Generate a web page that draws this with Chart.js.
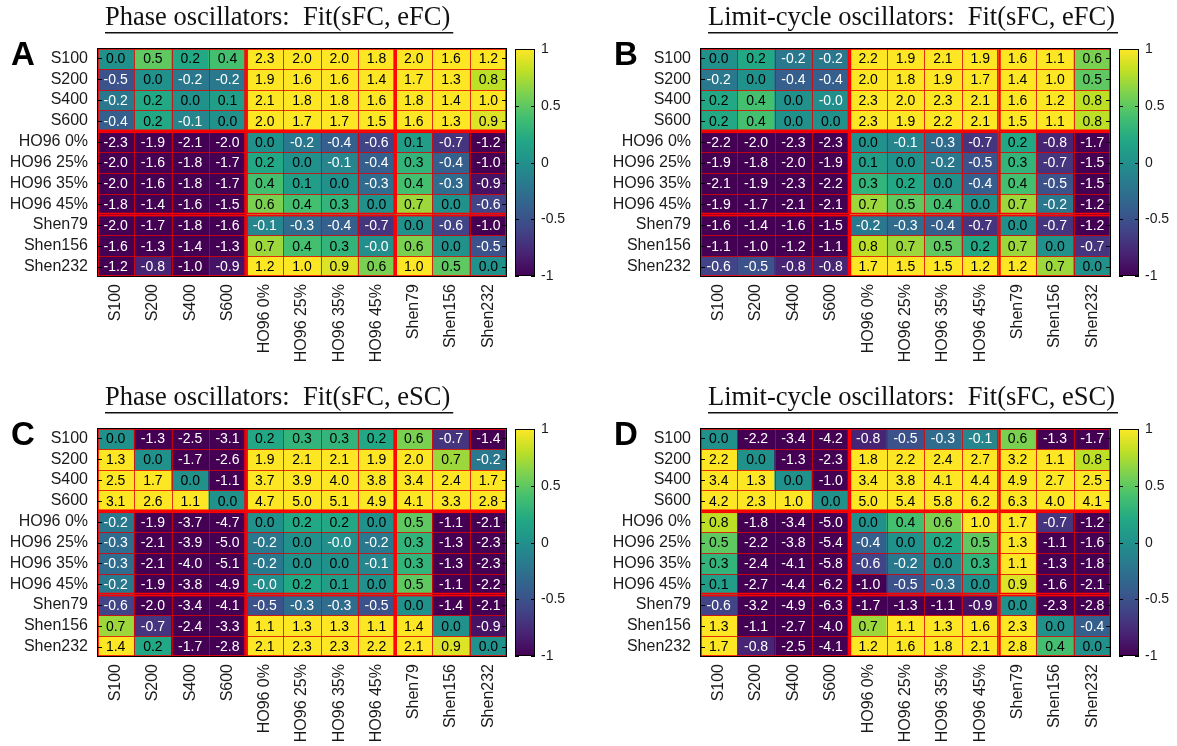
<!DOCTYPE html>
<html>
<head>
<meta charset="utf-8">
<script src="https://cdn.jsdelivr.net/npm/chart.js@4.4.1/dist/chart.umd.min.js"></script>
<style>
  html, body { margin: 0; padding: 0; background: #fff; }
  #wrap { position: relative; width: 1177px; height: 746px; overflow: hidden; }
  canvas { position: absolute; }
</style>
</head>
<body>
<div id="wrap">
  <canvas id="cA" width="588" height="373" style="left:0;top:0"></canvas>
  <canvas id="cB" width="589" height="373" style="left:588px;top:0"></canvas>
  <canvas id="cC" width="588" height="373" style="left:0;top:373px"></canvas>
  <canvas id="cD" width="589" height="373" style="left:588px;top:373px"></canvas>
</div>
<script>
// networks (rows and columns use the same order)
const networks = ['S100', 'S200', 'S400', 'S600', 'HO96 0%', 'HO96 25%', 'HO96 35%', 'HO96 45%', 'Shen79', 'Shen156', 'Shen232'];
const groupEdges = [0, 4, 8, 11];
const colorTicks = [1, 0.5, 0, -0.5, -1];

// values; -0.02 stands for the printed "-0.0"
const phaseEFC = [
  [0.0, 0.5, 0.2, 0.4, 2.3, 2.0, 2.0, 1.8, 2.0, 1.6, 1.2],
  [-0.5, 0.0, -0.2, -0.2, 1.9, 1.6, 1.6, 1.4, 1.7, 1.3, 0.8],
  [-0.2, 0.2, 0.0, 0.1, 2.1, 1.8, 1.8, 1.6, 1.8, 1.4, 1.0],
  [-0.4, 0.2, -0.1, 0.0, 2.0, 1.7, 1.7, 1.5, 1.6, 1.3, 0.9],
  [-2.3, -1.9, -2.1, -2.0, 0.0, -0.2, -0.4, -0.6, 0.1, -0.7, -1.2],
  [-2.0, -1.6, -1.8, -1.7, 0.2, 0.0, -0.1, -0.4, 0.3, -0.4, -1.0],
  [-2.0, -1.6, -1.8, -1.7, 0.4, 0.1, 0.0, -0.3, 0.4, -0.3, -0.9],
  [-1.8, -1.4, -1.6, -1.5, 0.6, 0.4, 0.3, 0.0, 0.7, 0.0, -0.6],
  [-2.0, -1.7, -1.8, -1.6, -0.1, -0.3, -0.4, -0.7, 0.0, -0.6, -1.0],
  [-1.6, -1.3, -1.4, -1.3, 0.7, 0.4, 0.3, -0.02, 0.6, 0.0, -0.5],
  [-1.2, -0.8, -1.0, -0.9, 1.2, 1.0, 0.9, 0.6, 1.0, 0.5, 0.0]
];
const limitEFC = [
  [0.0, 0.2, -0.2, -0.2, 2.2, 1.9, 2.1, 1.9, 1.6, 1.1, 0.6],
  [-0.2, 0.0, -0.4, -0.4, 2.0, 1.8, 1.9, 1.7, 1.4, 1.0, 0.5],
  [0.2, 0.4, 0.0, -0.02, 2.3, 2.0, 2.3, 2.1, 1.6, 1.2, 0.8],
  [0.2, 0.4, 0.0, 0.0, 2.3, 1.9, 2.2, 2.1, 1.5, 1.1, 0.8],
  [-2.2, -2.0, -2.3, -2.3, 0.0, -0.1, -0.3, -0.7, 0.2, -0.8, -1.7],
  [-1.9, -1.8, -2.0, -1.9, 0.1, 0.0, -0.2, -0.5, 0.3, -0.7, -1.5],
  [-2.1, -1.9, -2.3, -2.2, 0.3, 0.2, 0.0, -0.4, 0.4, -0.5, -1.5],
  [-1.9, -1.7, -2.1, -2.1, 0.7, 0.5, 0.4, 0.0, 0.7, -0.2, -1.2],
  [-1.6, -1.4, -1.6, -1.5, -0.2, -0.3, -0.4, -0.7, 0.0, -0.7, -1.2],
  [-1.1, -1.0, -1.2, -1.1, 0.8, 0.7, 0.5, 0.2, 0.7, 0.0, -0.7],
  [-0.6, -0.5, -0.8, -0.8, 1.7, 1.5, 1.5, 1.2, 1.2, 0.7, 0.0]
];
const phaseESC = [
  [0.0, -1.3, -2.5, -3.1, 0.2, 0.3, 0.3, 0.2, 0.6, -0.7, -1.4],
  [1.3, 0.0, -1.7, -2.6, 1.9, 2.1, 2.1, 1.9, 2.0, 0.7, -0.2],
  [2.5, 1.7, 0.0, -1.1, 3.7, 3.9, 4.0, 3.8, 3.4, 2.4, 1.7],
  [3.1, 2.6, 1.1, 0.0, 4.7, 5.0, 5.1, 4.9, 4.1, 3.3, 2.8],
  [-0.2, -1.9, -3.7, -4.7, 0.0, 0.2, 0.2, 0.0, 0.5, -1.1, -2.1],
  [-0.3, -2.1, -3.9, -5.0, -0.2, 0.0, -0.02, -0.2, 0.3, -1.3, -2.3],
  [-0.3, -2.1, -4.0, -5.1, -0.2, 0.0, 0.0, -0.1, 0.3, -1.3, -2.3],
  [-0.2, -1.9, -3.8, -4.9, -0.02, 0.2, 0.1, 0.0, 0.5, -1.1, -2.2],
  [-0.6, -2.0, -3.4, -4.1, -0.5, -0.3, -0.3, -0.5, 0.0, -1.4, -2.1],
  [0.7, -0.7, -2.4, -3.3, 1.1, 1.3, 1.3, 1.1, 1.4, 0.0, -0.9],
  [1.4, 0.2, -1.7, -2.8, 2.1, 2.3, 2.3, 2.2, 2.1, 0.9, 0.0]
];
const limitESC = [
  [0.0, -2.2, -3.4, -4.2, -0.8, -0.5, -0.3, -0.1, 0.6, -1.3, -1.7],
  [2.2, 0.0, -1.3, -2.3, 1.8, 2.2, 2.4, 2.7, 3.2, 1.1, 0.8],
  [3.4, 1.3, 0.0, -1.0, 3.4, 3.8, 4.1, 4.4, 4.9, 2.7, 2.5],
  [4.2, 2.3, 1.0, 0.0, 5.0, 5.4, 5.8, 6.2, 6.3, 4.0, 4.1],
  [0.8, -1.8, -3.4, -5.0, 0.0, 0.4, 0.6, 1.0, 1.7, -0.7, -1.2],
  [0.5, -2.2, -3.8, -5.4, -0.4, 0.0, 0.2, 0.5, 1.3, -1.1, -1.6],
  [0.3, -2.4, -4.1, -5.8, -0.6, -0.2, 0.0, 0.3, 1.1, -1.3, -1.8],
  [0.1, -2.7, -4.4, -6.2, -1.0, -0.5, -0.3, 0.0, 0.9, -1.6, -2.1],
  [-0.6, -3.2, -4.9, -6.3, -1.7, -1.3, -1.1, -0.9, 0.0, -2.3, -2.8],
  [1.3, -1.1, -2.7, -4.0, 0.7, 1.1, 1.3, 1.6, 2.3, 0.0, -0.4],
  [1.7, -0.8, -2.5, -4.1, 1.2, 1.6, 1.8, 2.1, 2.8, 0.4, 0.0]
];

const viridis = ['#440154', '#482475', '#414487', '#355f8d', '#2a788e', '#21918c',
                 '#22a884', '#44bf70', '#7ad151', '#bddf26', '#fde725'];
const SANS = '"Liberation Sans", Arial, Helvetica, sans-serif';
const SERIF = '"Liberation Serif", "DejaVu Serif", serif';

function hexToRgb(h) {
  return [parseInt(h.slice(1, 3), 16), parseInt(h.slice(3, 5), 16), parseInt(h.slice(5, 7), 16)];
}

// colour range clipped to [-1, 1]
function cellColor(v) {
  const t = Math.max(0, Math.min(1, (v + 1) / 2)) * (viridis.length - 1);
  const i = Math.min(Math.floor(t), viridis.length - 2);
  const f = t - i;
  const a = hexToRgb(viridis[i]), b = hexToRgb(viridis[i + 1]);
  const c = a.map((x, k) => Math.round(x + (b[k] - x) * f));
  return `rgb(${c[0]},${c[1]},${c[2]})`;
}

const decor = {
  id: 'decor',
  afterDatasetsDraw(chart) {
    const ctx = chart.ctx;
    const area = chart.chartArea;
    const xs = chart.scales.x, ys = chart.scales.y;
    const values = chart.options.plugins.decor.values;
    const colEdge = k => xs.getPixelForValue(k - 0.5);
    const rowEdge = k => ys.getPixelForValue(k);

    ctx.save();
    // thin red cell lines
    ctx.strokeStyle = 'rgba(225,0,0,0.8)';
    ctx.lineWidth = 1;
    ctx.beginPath();
    for (let k = 1; k < networks.length; k++) {
      const x = Math.round(colEdge(k)) + 0.5;
      ctx.moveTo(x, area.top); ctx.lineTo(x, area.bottom);
      const y = Math.round(rowEdge(k)) + 0.5;
      ctx.moveTo(area.left, y); ctx.lineTo(area.right, y);
    }
    ctx.stroke();

    // group blocks
    ctx.strokeStyle = '#f00';
    ctx.lineWidth = 1.6;
    for (let r = 0; r < 3; r++) {
      for (let c = 0; c < 3; c++) {
        const x0 = colEdge(groupEdges[c]), x1 = colEdge(groupEdges[c + 1]);
        const y0 = rowEdge(groupEdges[r]), y1 = rowEdge(groupEdges[r + 1]);
        ctx.strokeRect(x0 + 1, y0 + 1, x1 - x0 - 2, y1 - y0 - 2);
      }
    }

    // cell values
    ctx.font = `14px ${SANS}`;
    ctx.textAlign = 'center';
    ctx.textBaseline = 'middle';
    chart.data.datasets.forEach((ds, r) => {
      chart.getDatasetMeta(r).data.forEach((bar, c) => {
        const v = values[r][c];
        ctx.fillStyle = v < 0 ? '#fff' : '#000';
        ctx.fillText(v.toFixed(1), bar.x, (bar.y + bar.base) / 2 + 1);
      });
    });

    // frame and inward ticks
    ctx.strokeStyle = '#000';
    ctx.lineWidth = 1;
    ctx.strokeRect(Math.round(area.left) + 0.5, Math.round(area.top) + 0.5,
                   Math.round(area.right - area.left) - 1, Math.round(area.bottom - area.top) - 1);
    ctx.beginPath();
    for (let k = 0; k < networks.length; k++) {
      const y = Math.round(ys.getPixelForValue(k + 0.5)) + 0.5;
      ctx.moveTo(area.left, y); ctx.lineTo(area.left + 5, y);
      ctx.moveTo(area.right, y); ctx.lineTo(area.right - 5, y);
    }
    ctx.stroke();
    ctx.restore();
  },
  afterDraw(chart) {
    const ctx = chart.ctx;
    const area = chart.chartArea;
    const o = chart.options.plugins.decor;
    ctx.save();

    // underlined title
    ctx.font = `26.5px ${SERIF}`;
    ctx.fillStyle = '#111';
    ctx.textAlign = 'left';
    ctx.textBaseline = 'alphabetic';
    const tx = area.left + 8;
    ctx.fillText(o.title, tx, area.top - 23);
    const w = ctx.measureText(o.title).width;
    ctx.fillRect(tx, area.top - 16, w + 3, 1.5);

    // panel letter
    ctx.font = `bold 33px ${SANS}`;
    ctx.fillStyle = '#000';
    ctx.fillText(o.letter, area.left - 86, area.top + 17);

    // colour bar
    const bx = area.right + 8, bw = 20;
    const by0 = area.top + 1, by1 = area.bottom - 1;
    const grad = ctx.createLinearGradient(0, by1, 0, by0);
    viridis.forEach((c, i) => grad.addColorStop(i / (viridis.length - 1), c));
    ctx.fillStyle = grad;
    ctx.fillRect(bx, by0, bw, by1 - by0);
    ctx.strokeStyle = '#000';
    ctx.lineWidth = 1;
    ctx.strokeRect(bx + 0.5, Math.round(by0) + 0.5, bw - 1, Math.round(by1 - by0) - 1);
    ctx.font = `14px ${SANS}`;
    ctx.fillStyle = '#1a1a1a';
    ctx.textBaseline = 'middle';
    ctx.beginPath();
    colorTicks.forEach(v => {
      const y = Math.round(by1 - (v + 1) / 2 * (by1 - by0)) + 0.5;
      ctx.moveTo(bx, y); ctx.lineTo(bx + 4, y);
      ctx.moveTo(bx + bw, y); ctx.lineTo(bx + bw - 4, y);
      ctx.fillText(String(v), bx + bw + 6, y);
    });
    ctx.stroke();
    ctx.restore();
  }
};

function makePanel(id, values, title, letter, box) {
  const canvas = document.getElementById(id);
  const datasets = values.map((row, r) => ({
    data: row.map(() => [r, r + 1]),
    backgroundColor: row.map(v => cellColor(v)),
    borderWidth: 0,
    grouped: false,
    barPercentage: 1,
    categoryPercentage: 1
  }));
  return new Chart(canvas, {
    type: 'bar',
    data: { labels: networks, datasets },
    options: {
      responsive: false,
      animation: false,
      layout: { padding: { left: 0, top: box.top, right: canvas.width - box.right, bottom: 0 } },
      plugins: {
        legend: { display: false },
        tooltip: { enabled: false },
        decor: { values, title, letter }
      },
      scales: {
        x: {
          grid: { display: false, drawTicks: false },
          border: { display: false },
          ticks: {
            autoSkip: false, minRotation: 90, maxRotation: 90, padding: 7,
            color: '#1a1a1a', font: { family: SANS, size: 16 }
          },
          afterFit: s => { s.height = canvas.height - box.bottom; }
        },
        y: {
          min: 0, max: networks.length, reverse: true,
          grid: { display: false, drawTicks: false },
          border: { display: false },
          afterBuildTicks: s => { s.ticks = networks.map((_, i) => ({ value: i + 0.5 })); },
          ticks: {
            padding: 9, color: '#1a1a1a', font: { family: SANS, size: 16 },
            callback: (v, i) => networks[i]
          },
          afterFit: s => { s.width = box.left; }
        }
      }
    },
    plugins: [decor]
  });
}

makePanel('cA', phaseEFC, 'Phase oscillators:  Fit(sFC, eFC)', 'A', { left: 97, top: 48, right: 507, bottom: 277 });
makePanel('cB', limitEFC, 'Limit-cycle oscillators:  Fit(sFC, eFC)', 'B', { left: 112, top: 48, right: 523, bottom: 277 });
makePanel('cC', phaseESC, 'Phase oscillators:  Fit(sFC, eSC)', 'C', { left: 97, top: 55, right: 507, bottom: 284 });
makePanel('cD', limitESC, 'Limit-cycle oscillators:  Fit(sFC, eSC)', 'D', { left: 112, top: 55, right: 523, bottom: 284 });
</script>
</body>
</html>
